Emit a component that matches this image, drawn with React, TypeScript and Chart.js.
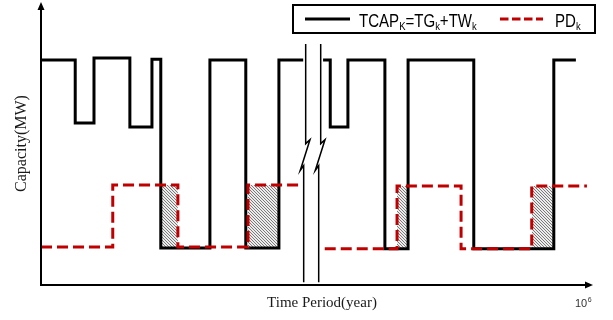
import React, { useEffect, useRef } from 'react';
import { Chart, registerables } from 'chart.js';

Chart.register(...registerables);

// ---- Data (time in % of horizon, capacity in % of scale) ----
const tcapLeftTimes = [0, 6.2, 9.6, 16.1, 20.1, 21.7, 30.6, 37.1, 43.1, 47.5];
const tcapLeftLevels = [79.5, 57.2, 80.2, 55.8, 79.8, 13.1, 79.5, 13.1, 79.5, 79.5];
const tcapRightTimes = [51.1, 52.4, 55.6, 62.3, 66.5, 78.4, 92.9, 96.9];
const tcapRightLevels = [79.5, 55.8, 79.5, 12.8, 79.5, 12.8, 79.5, 79.5];
const pdLeftTimes = [0, 13.0, 24.8, 37.5, 47.5];
const pdLeftLevels = [13.4, 35.3, 13.4, 35.3, 35.3];
const pdRightTimes = [51.4, 64.5, 76.1, 88.9, 98.9];
const pdRightLevels = [12.8, 35.0, 12.8, 35.0, 35.0];
const deficitStarts = [21.7, 37.5, 64.5, 88.9];
const deficitEnds = [24.8, 43.1, 66.5, 92.9];
const deficitTops = [35.3, 35.3, 35.0, 35.0];
const deficitBottoms = [13.1, 13.1, 12.8, 12.8];
const breakTimes = [47.95, 50.67];
const breakTop = 85.2;
const breakBottom = 1;

const legendTcap = [
  { t: 'TCAP', sub: false },
  { t: 'K', sub: true },
  { t: '=TG', sub: false },
  { t: 'k', sub: true },
  { t: '+TW', sub: false },
  { t: 'k', sub: true },
];
const legendPd = [
  { t: 'PD', sub: false },
  { t: 'k', sub: true },
];
const yTitle = 'Capacity(MW)';
const xTitle = 'Time Period(year)';
const xScaleNote = '10';
const xScaleExp = '6';

function steps(times: number[], levels: number[]) {
  const pts: { x: number; y: number }[] = [];
  for (let i = 0; i < times.length; i++) {
    pts.push({ x: times[i], y: levels[i] });
    if (i + 1 < times.length) pts.push({ x: times[i + 1], y: levels[i] });
  }
  return pts;
}

const NARROW = '"Liberation Sans Narrow", "Liberation Sans", Arial, sans-serif';
const SERIF = '"Liberation Serif", "Times New Roman", serif';
const SANS = '"Liberation Sans", Arial, sans-serif';

function drawPieces(ctx: CanvasRenderingContext2D, pieces: { t: string; sub: boolean }[], x: number, baseline: number, sx: number) {
  ctx.save();
  ctx.translate(x, baseline);
  ctx.scale(sx, 1);
  let cx = 0;
  for (const p of pieces) {
    ctx.font = p.sub ? `11px ${NARROW}` : `17.5px ${NARROW}`;
    ctx.fillText(p.t, cx, p.sub ? 3.5 : 0);
    cx += ctx.measureText(p.t).width;
  }
  ctx.restore();
}

const overlayPlugin = {
  id: 'overlay',
  afterDatasetsDraw(chart: any) {
    const ctx: CanvasRenderingContext2D = chart.ctx;
    const xs = chart.scales.x;
    const ys = chart.scales.y;
    const area = chart.chartArea;
    ctx.save();
    // axes
    ctx.strokeStyle = '#000';
    ctx.fillStyle = '#000';
    ctx.lineWidth = 2;
    ctx.beginPath();
    ctx.moveTo(area.left, area.top + 6);
    ctx.lineTo(area.left, area.bottom);
    ctx.lineTo(area.right - 6, area.bottom);
    ctx.stroke();
    ctx.beginPath();
    ctx.moveTo(area.left, area.top);
    ctx.lineTo(area.left - 3.5, area.top + 8);
    ctx.lineTo(area.left + 3.5, area.top + 8);
    ctx.closePath();
    ctx.fill();
    ctx.beginPath();
    ctx.moveTo(area.right, area.bottom);
    ctx.lineTo(area.right - 8, area.bottom - 3.5);
    ctx.lineTo(area.right - 8, area.bottom + 3.5);
    ctx.closePath();
    ctx.fill();

    // axis breaks
    ctx.lineWidth = 1.5;
    const yT = ys.getPixelForValue(breakTop);
    const yB = ys.getPixelForValue(breakBottom);
    const yZ = ys.getPixelForValue(51);
    for (const bt of breakTimes) {
      const X = xs.getPixelForValue(bt);
      ctx.beginPath();
      ctx.moveTo(X, yT);
      ctx.lineTo(X, yZ + 3);
      ctx.lineTo(X + 4.3, yZ - 1);
      ctx.lineTo(X - 5.5, yZ + 30);
      ctx.lineTo(X - 2, yZ + 25);
      ctx.lineTo(X - 2, yB);
      ctx.stroke();
    }

    // titles
    ctx.fillStyle = '#1a1a1a';
    ctx.textBaseline = 'middle';
    ctx.textAlign = 'center';
    ctx.font = `15px ${SERIF}`;
    ctx.fillText(xTitle, (area.left + area.right) / 2 + 5, 303);
    ctx.save();
    ctx.translate(22, (area.top + area.bottom) / 2);
    ctx.rotate(-Math.PI / 2);
    ctx.font = `16px ${SERIF}`;
    ctx.fillText(yTitle, 0, 0);
    ctx.restore();

    // 10^6
    ctx.textAlign = 'left';
    ctx.textBaseline = 'alphabetic';
    ctx.fillStyle = '#333';
    ctx.font = `11px ${SANS}`;
    ctx.fillText(xScaleNote, 575, 307);
    const w10 = ctx.measureText(xScaleNote).width;
    ctx.font = `7px ${SANS}`;
    ctx.fillText(xScaleExp, 575 + w10 + 0.5, 302);

    // legend
    ctx.strokeStyle = '#000';
    ctx.lineWidth = 2;
    ctx.strokeRect(293, 5, 302, 28);
    ctx.lineWidth = 3;
    ctx.beginPath();
    ctx.moveTo(305, 19);
    ctx.lineTo(350, 19);
    ctx.stroke();
    ctx.strokeStyle = '#c00000';
    ctx.setLineDash([8.5, 3.5]);
    ctx.beginPath();
    ctx.moveTo(500, 19);
    ctx.lineTo(543, 19);
    ctx.stroke();
    ctx.setLineDash([]);
    ctx.fillStyle = '#000';
    drawPieces(ctx, legendTcap, 359, 26.5, 0.86);
    drawPieces(ctx, legendPd, 555, 26.5, 0.86);
    ctx.restore();
  },
};

export default function App() {
  const ref = useRef<HTMLCanvasElement | null>(null);
  useEffect(() => {
    const canvas = ref.current;
    if (!canvas) return;
    // hatch pattern
    const pc = document.createElement('canvas');
    pc.width = 3;
    pc.height = 3;
    const p = pc.getContext('2d')!;
    p.fillStyle = '#ececec';
    p.fillRect(0, 0, 3, 3);
    p.strokeStyle = '#7a7a7a';
    p.lineWidth = 1;
    p.beginPath();
    p.moveTo(-1, -1);
    p.lineTo(4, 4);
    p.moveTo(-1, 2);
    p.lineTo(1, 4);
    p.moveTo(2, -1);
    p.lineTo(4, 1);
    p.stroke();
    const pattern = canvas.getContext('2d')!.createPattern(pc, 'repeat');

    const hatchSets = deficitStarts.map((s, i) => ({
      type: 'line' as const,
      data: [
        { x: s, y: deficitTops[i] },
        { x: deficitEnds[i], y: deficitTops[i] },
      ],
      borderWidth: 0,
      borderColor: 'rgba(0,0,0,0)',
      backgroundColor: pattern,
      fill: { value: deficitBottoms[i] },
      pointRadius: 0,
      order: 3,
    }));

    const lineBase = {
      type: 'line' as const,
      pointRadius: 0,
      fill: false,
      tension: 0,
      borderJoinStyle: 'miter' as const,
      borderCapStyle: 'butt' as const,
    };

    const chart = new Chart(canvas, {
      type: 'line',
      data: {
        datasets: [
          ...hatchSets,
          { ...lineBase, data: steps(tcapLeftTimes, tcapLeftLevels), borderColor: '#000', borderWidth: 3, order: 2 },
          { ...lineBase, data: steps(tcapRightTimes, tcapRightLevels), borderColor: '#000', borderWidth: 3, order: 2 },
          { ...lineBase, data: steps(pdLeftTimes, pdLeftLevels), borderColor: '#c00000', borderWidth: 3, borderDash: [11, 5], order: 1 },
          { ...lineBase, data: steps(pdRightTimes, pdRightLevels), borderColor: '#c00000', borderWidth: 3, borderDash: [11, 5], order: 1 },
        ] as any,
      },
      options: {
        animation: false,
        responsive: false,
        devicePixelRatio: 1,
        layout: { padding: { left: 41, right: 20, top: 2, bottom: 35 } },
        scales: {
          x: { type: 'linear', min: 0, max: 100, display: false },
          y: { type: 'linear', min: 0, max: 100, display: false },
        },
        plugins: { legend: { display: false }, tooltip: { enabled: false } },
        events: [],
      },
      plugins: [overlayPlugin],
    });
    return () => chart.destroy();
  }, []);
  return (
    <div style={{ position: 'fixed', left: 0, top: 0, width: 613, height: 320, background: '#fff' }}>
      <canvas ref={ref} width={613} height={320} style={{ display: 'block' }} />
    </div>
  );
}
